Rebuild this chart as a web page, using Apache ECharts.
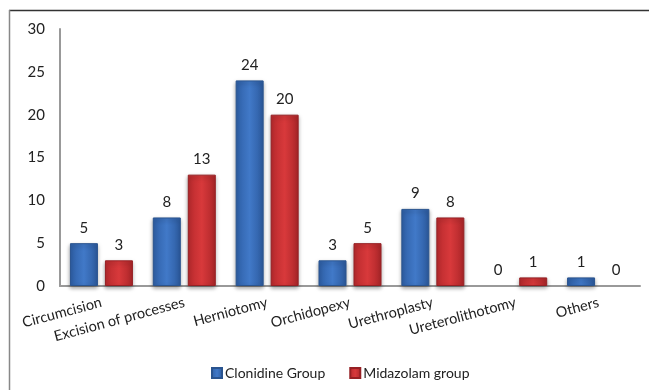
<!DOCTYPE html>
<html><head><meta charset="utf-8">
<script src="https://cdn.jsdelivr.net/npm/echarts@6/dist/echarts.min.js"></script>
<style>html,body{margin:0;padding:0;background:#fff}#c{width:649px;height:390px}</style>
</head><body><div id="c"></div>
<script>
var categories = ["Circumcision","Excision of processes","Herniotomy","Orchidopexy","Urethroplasty","Ureterolithotomy","Others"];
var clonidine = [5,8,24,3,9,0,1];
var midazolam = [3,13,20,5,8,1,0];
var seriesNames = ["Clonidine Group","Midazolam group"];
var yTicks = {min:0,max:30,interval:5};

var FONT = "Lato";
function grad(c1,c2,c3){
  return new echarts.graphic.LinearGradient(0,0,1,0,[
    {offset:0,color:c1},{offset:0.5,color:c2},{offset:1,color:c3}]);
}
var blueFill = grad('#2e5fa6','#4179c8','#2c5a9e');
var redFill = grad('#b82a2d','#d8393b','#ac2629');

var chart = echarts.init(document.getElementById('c'),null,{renderer:'canvas'});
function mkSeries(name,data,fill,border){
  return {
    name:name,type:'bar',
    data:data.map(function(v){
      return v===0 ? {value:v,itemStyle:{borderWidth:0,shadowBlur:0,opacity:0}} : v;
    }),
    barWidth:28,barGap:'25%',
    itemStyle:{color:fill,borderColor:border,borderWidth:1,
      shadowColor:'rgba(0,0,0,0.35)',shadowBlur:4,shadowOffsetY:2},
    label:{show:true,position:'top',distance:8,color:'#222',fontSize:15,fontFamily:FONT,opacity:1},
    emphasis:{disabled:true}
  };
}
chart.setOption({
  animation:false,
  textStyle:{fontFamily:FONT},
  graphic:[
    {type:'line',shape:{x1:9,y1:10.5,x2:649,y2:10.5},style:{stroke:'#333',lineWidth:1.5}},
    {type:'line',shape:{x1:9.5,y1:10,x2:9.5,y2:390},style:{stroke:'#888',lineWidth:1.5}}
  ],
  grid:{left:60,right:9,top:29,bottom:104,containLabel:false},
  legend:{
    top:361,left:206,itemWidth:10,itemHeight:10,itemGap:24,
    textStyle:{fontSize:14,color:'#222',fontFamily:FONT,padding:[0,0,0,-2]},
    data:[{name:seriesNames[0],icon:'rect'},{name:seriesNames[1],icon:'rect'}]
  },
  xAxis:{
    type:'category',data:categories,
    axisLine:{lineStyle:{color:'#999',width:2}},
    axisTick:{show:false},
    axisLabel:{rotate:15,margin:16,fontSize:14.5,color:'#222',fontFamily:FONT,interval:0}
  },
  yAxis:{
    type:'value',min:yTicks.min,max:yTicks.max,interval:yTicks.interval,
    axisLine:{show:true,lineStyle:{color:'#999',width:2}},
    axisTick:{show:false},
    splitLine:{show:false},
    axisLabel:{fontSize:15,color:'#222',margin:15,fontFamily:FONT}
  },
  series:[
    mkSeries(seriesNames[0],clonidine,blueFill,'#2a548f'),
    mkSeries(seriesNames[1],midazolam,redFill,'#962024')
  ]
});
</script></body></html>
